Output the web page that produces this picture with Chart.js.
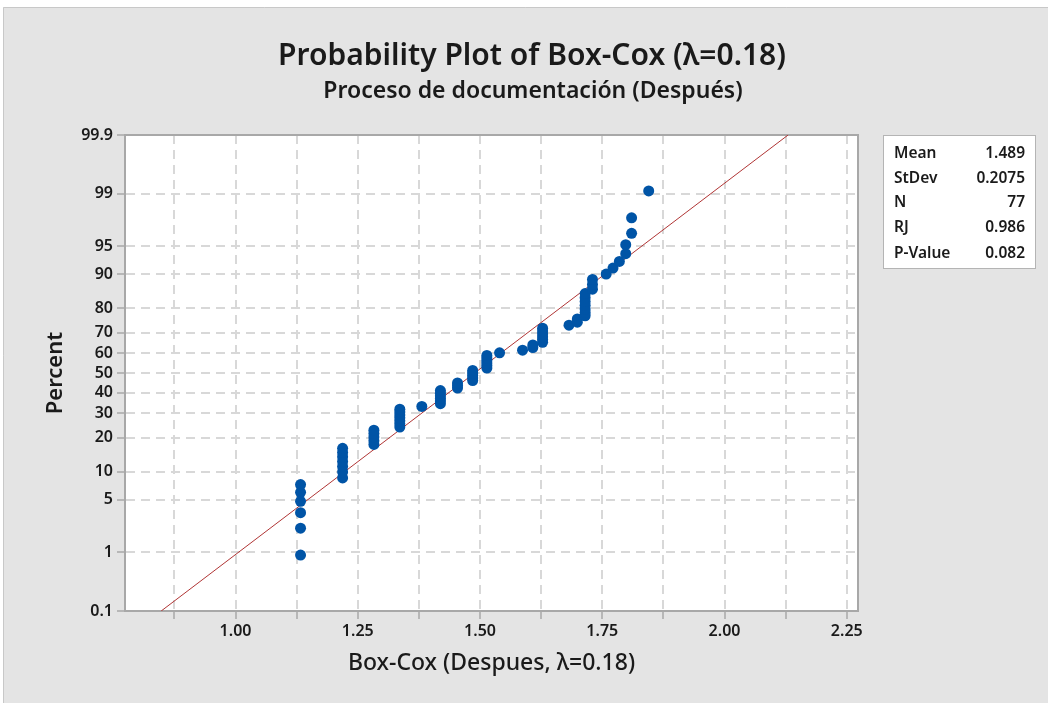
<!DOCTYPE html>
<html>
<head>
<meta charset="utf-8">
<script src="https://cdn.jsdelivr.net/npm/chart.js@4.4.1/dist/chart.umd.min.js"></script>
<style>
  html, body { margin: 0; padding: 0; background: #ffffff; }
  #wrap { width: 1048px; height: 703px; }
</style>
</head>
<body>
<div id="wrap"><canvas id="c" width="1048" height="703"></canvas></div>
<script>
// ---------------- data ----------------
const chartTitle = 'Probability Plot of Box-Cox (\u03bb=0.18)';
const chartSubtitle = 'Proceso de documentaci\u00f3n (Despu\u00e9s)';
const xAxisTitle = 'Box-Cox (Despues, \u03bb=0.18)';
const yAxisTitle = 'Percent';

const boxCoxValues = [
  1.133, 1.133, 1.133, 1.133, 1.133, 1.133,
  1.219, 1.219, 1.219, 1.219, 1.219, 1.219, 1.219,
  1.283, 1.283, 1.283, 1.283, 1.283,
  1.336, 1.336, 1.336, 1.336, 1.336, 1.336, 1.336,
  1.381,
  1.419, 1.419, 1.419, 1.419, 1.419, 1.419,
  1.454, 1.454, 1.454,
  1.485, 1.485, 1.485, 1.485, 1.485,
  1.514, 1.514, 1.514, 1.514, 1.514, 1.514,
  1.540,
  1.587,
  1.608, 1.608,
  1.628, 1.628, 1.628, 1.628, 1.628, 1.628,
  1.682,
  1.699, 1.699,
  1.715, 1.715, 1.715, 1.715, 1.715, 1.715, 1.715,
  1.730, 1.730, 1.730,
  1.758,
  1.772,
  1.785,
  1.798, 1.798,
  1.810, 1.810,
  1.845
];

const percentValues = [
  0.904, 2.196, 3.488, 4.780, 6.072, 7.364, 8.656, 9.948, 11.240, 12.532,
  13.824, 15.116, 16.408, 17.700, 18.992, 20.284, 21.576, 22.868, 24.160, 25.452,
  26.744, 28.036, 29.328, 30.620, 31.912, 33.204, 34.496, 35.788, 37.080, 38.372,
  39.664, 40.956, 42.248, 43.540, 44.832, 46.124, 47.416, 48.708, 50.000, 51.292,
  52.584, 53.876, 55.168, 56.460, 57.752, 59.044, 60.336, 61.628, 62.920, 64.212,
  65.504, 66.796, 68.088, 69.380, 70.672, 71.964, 73.256, 74.548, 75.840, 77.132,
  78.424, 79.716, 81.008, 82.300, 83.592, 84.884, 86.176, 87.468, 88.760, 90.052,
  91.344, 92.636, 93.928, 95.220, 96.512, 97.804, 99.096
];

const fitLineX = [0.848, 2.130];
const fitLinePercent = [0.1, 99.9];

const percentTicks = [0.1, 1, 5, 10, 20, 30, 40, 50, 60, 70, 80, 90, 95, 99, 99.9];
const xTickLabels = ['1.00', '1.25', '1.50', '1.75', '2.00', '2.25'];

const statLabels = ['Mean', 'StDev', 'N', 'RJ', 'P-Value'];
const statValues = ['1.489', '0.2075', '77', '0.986', '0.082'];

// ---------------- normal probability scale ----------------
function probit(p) {
  const a = [-3.969683028665376e+01, 2.209460984245205e+02, -2.759285104469687e+02, 1.383577518672690e+02, -3.066479806614716e+01, 2.506628277459239e+00];
  const b = [-5.447609879822406e+01, 1.615858368580409e+02, -1.556989798598866e+02, 6.680131188771972e+01, -1.328068155288572e+01];
  const c = [-7.784894002430293e-03, -3.223964580411365e-01, -2.400758277161838e+00, -2.549732539343734e+00, 4.374664141464968e+00, 2.938163982698783e+00];
  const d = [7.784695709041462e-03, 3.224671290700398e-01, 2.445134137142996e+00, 3.754408661907416e+00];
  const pl = 0.02425, ph = 1 - pl;
  let q, r;
  if (p < pl) {
    q = Math.sqrt(-2 * Math.log(p));
    return (((((c[0]*q+c[1])*q+c[2])*q+c[3])*q+c[4])*q+c[5]) / ((((d[0]*q+d[1])*q+d[2])*q+d[3])*q+1);
  }
  if (p <= ph) {
    q = p - 0.5; r = q * q;
    return (((((a[0]*r+a[1])*r+a[2])*r+a[3])*r+a[4])*r+a[5])*q / (((((b[0]*r+b[1])*r+b[2])*r+b[3])*r+b[4])*r+1);
  }
  q = Math.sqrt(-2 * Math.log(1 - p));
  return -(((((c[0]*q+c[1])*q+c[2])*q+c[3])*q+c[4])*q+c[5]) / ((((d[0]*q+d[1])*q+d[2])*q+d[3])*q+1);
}
function normCdf(z) {
  const t = 1 / (1 + 0.2316419 * Math.abs(z));
  const poly = t*(0.319381530 + t*(-0.356563782 + t*(1.781477937 + t*(-1.821255978 + t*1.330274429))));
  const v = 1 - Math.exp(-z*z/2) / Math.sqrt(2*Math.PI) * poly;
  return z >= 0 ? v : 1 - v;
}

class ProbabilityScale extends Chart.LinearScale {
  determineDataLimits() {
    this.min = this.options.min;
    this.max = this.options.max;
  }
  buildTicks() {
    return percentTicks.map(v => ({ value: v }));
  }
  configure() {
    super.configure();
    this._zMin = probit(this.min / 100);
    this._zMax = probit(this.max / 100);
  }
  getPixelForValue(v) {
    const z = probit(v / 100);
    return this.getPixelForDecimal((z - this._zMin) / (this._zMax - this._zMin));
  }
  getValueForPixel(px) {
    const dec = this.getDecimalForPixel(px);
    return 100 * normCdf(this._zMin + dec * (this._zMax - this._zMin));
  }
}
ProbabilityScale.id = 'probability';
ProbabilityScale.defaults = Chart.LinearScale.defaults;
Chart.register(ProbabilityScale);

// ---------------- decorations ----------------
const FONT = '"Noto Sans", "Open Sans", "DejaVu Sans", sans-serif';

const decorPlugin = {
  id: 'decor',
  beforeDraw(chart) {
    const ctx = chart.ctx;
    const ca = chart.chartArea;
    ctx.save();
    ctx.fillStyle = '#ffffff';
    ctx.fillRect(0, 0, chart.width, chart.height);
    ctx.fillStyle = '#e4e4e4';
    ctx.fillRect(3, 7, chart.width - 3, chart.height - 7);
    ctx.strokeStyle = '#c8c8c8';
    ctx.lineWidth = 1;
    ctx.beginPath();
    ctx.moveTo(3.5, chart.height); ctx.lineTo(3.5, 7.5); ctx.lineTo(chart.width, 7.5);
    ctx.stroke();
    ctx.fillStyle = '#ffffff';
    ctx.fillRect(ca.left, ca.top, ca.right - ca.left, ca.bottom - ca.top);
    ctx.restore();
  },
  beforeDatasetsDraw(chart) {
    const ctx = chart.ctx;
    const ca = chart.chartArea;
    ctx.save();
    ctx.strokeStyle = '#a8a8a8';
    ctx.lineWidth = 2;
    ctx.setLineDash([]);
    ctx.beginPath();
    ctx.moveTo(ca.left, ca.top); ctx.lineTo(ca.right, ca.top); ctx.lineTo(ca.right, ca.bottom);
    ctx.stroke();
    ctx.beginPath();
    ctx.moveTo(ca.left, ca.top - 1); ctx.lineTo(ca.left, ca.bottom); ctx.lineTo(ca.right, ca.bottom);
    ctx.stroke();
    ctx.restore();
  },
  afterDraw(chart) {
    const ctx = chart.ctx;
    ctx.save();
    ctx.fillStyle = '#1a1a1a';
    ctx.textAlign = 'center';
    ctx.textBaseline = 'middle';
    ctx.font = '600 30px ' + FONT;
    ctx.fillText(chartTitle, 532, 56);
    ctx.font = '600 23px ' + FONT;
    ctx.fillText(chartSubtitle, 533, 91);

    // stats box
    const bx = 883, by = 135, bw = 152, bh = 133;
    ctx.fillStyle = '#ffffff';
    ctx.fillRect(bx, by, bw, bh);
    ctx.strokeStyle = '#b4b4b4';
    ctx.lineWidth = 1;
    ctx.strokeRect(bx + 0.5, by + 0.5, bw, bh);
    ctx.font = '600 15.5px ' + FONT;
    ctx.fillStyle = '#1a1a1a';
    const rowY = [154, 179, 203, 228, 254];
    statLabels.forEach((s, i) => {
      ctx.textAlign = 'left';
      ctx.fillText(s, 894, rowY[i]);
      ctx.textAlign = 'right';
      ctx.fillText(statValues[i], 1025, rowY[i]);
    });
    ctx.restore();
  }
};

const scatterData = boxCoxValues.map((x, i) => ({ x: x, y: percentValues[i] }));
const lineData = fitLineX.map((x, i) => ({ x: x, y: fitLinePercent[i] }));

const gridOpts = {
  color: '#d8d8d8',
  lineWidth: 2,
  tickBorderDash: [],
  tickColor: '#a8a8a8',
  tickWidth: 1.5,
  tickLength: 8
};
const borderOpts = { display: true, color: '#a8a8a8', width: 2, dash: [9, 6] };

new Chart(document.getElementById('c'), {
  type: 'scatter',
  data: {
    datasets: [
      {
        label: 'Box-Cox',
        data: scatterData,
        backgroundColor: '#0054a6',
        borderColor: '#0054a6',
        borderWidth: 0,
        pointRadius: 5.5,
        pointHoverRadius: 5.5
      },
      {
        label: 'Fit',
        type: 'line',
        data: lineData,
        borderColor: '#b03535',
        borderWidth: 1,
        pointRadius: 0,
        fill: false
      }
    ]
  },
  options: {
    responsive: false,
    animation: false,
    devicePixelRatio: 1,
    layout: { padding: { left: 0, top: 135, right: 190, bottom: 0 } },
    plugins: {
      legend: { display: false },
      tooltip: { enabled: false },
      title: { display: false }
    },
    scales: {
      x: {
        type: 'linear',
        min: 0.774,
        max: 2.273,
        afterFit(scale) { scale.height = 92; },
        ticks: {
          stepSize: 0.125,
          includeBounds: false,
          autoSkip: false,
          maxRotation: 0,
          color: '#1a1a1a',
          font: { family: FONT, size: 16, weight: '600' },
          padding: 3,
          callback(v) {
            const s = Number(v).toFixed(2);
            return xTickLabels.includes(s) ? s : '';
          }
        },
        grid: gridOpts,
        border: borderOpts,
        title: {
          display: true,
          text: xAxisTitle,
          color: '#1a1a1a',
          font: { family: FONT, size: 23, weight: '500' },
          padding: { top: 0, bottom: 26 }
        }
      },
      y: {
        type: 'probability',
        min: 0.1,
        max: 99.9,
        afterFit(scale) { scale.width = 125; },
        ticks: {
          autoSkip: false,
          color: '#1a1a1a',
          font: { family: FONT, size: 16, weight: '600' },
          padding: 4,
          callback(v) { return String(v); }
        },
        grid: gridOpts,
        border: borderOpts,
        title: {
          display: true,
          text: yAxisTitle,
          color: '#1a1a1a',
          font: { family: FONT, size: 22, weight: '600' },
          padding: { top: 43, bottom: 0 }
        }
      }
    }
  },
  plugins: [decorPlugin]
});
</script>
</body>
</html>
